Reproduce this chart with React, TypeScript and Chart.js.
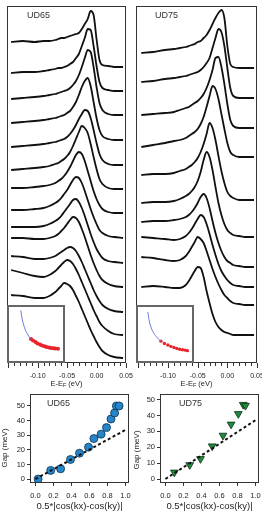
import React, { useEffect, useRef } from 'react';
import { Chart, registerables } from 'chart.js';

Chart.register(...registerables);

const FONT = "'Liberation Sans', Arial, Helvetica, sans-serif";
const INK = '#1e1e1e';

// ---------- EDC stacks: shared energy axis (eV) ----------
const energy = [-0.145, -0.125, -0.105, -0.09, -0.08, -0.07, -0.065, -0.06, -0.055, -0.05, -0.045, -0.04, -0.035, -0.03, -0.025, -0.02, -0.015, -0.01, -0.005, 0, 0.005, 0.01, 0.02, 0.03, 0.045];

// UD65: vertical offsets (arb. units) and intensities above each offset
const ud65Offsets = [296, 272, 248, 223, 198, 174, 150, 125, 100, 76, 51, 28, 5];
const ud65Edc01 = [25, 26, 25, 26, 26, 27, 28, 29, 29, 30, 31, 32, 33, 34, 38, 43, 48, 56, 52, 28, 7, 2, 1, 0, 0];
const ud65Edc02 = [18, 19, 19, 20, 21, 22, 23, 23, 24, 25, 27, 29, 33, 37, 45, 53, 62, 61, 45, 25, 9, 3, 1, 0, 0];
const ud65Edc03 = [16, 17, 18, 19, 20, 21, 22, 23, 24, 25, 27, 30, 34, 40, 48, 57, 65, 63, 48, 28, 12, 5, 1, 0, 0];
const ud65Edc04 = [17, 18, 19, 20, 21, 22, 23, 24, 25, 27, 29, 33, 38, 45, 53, 59, 62, 54, 38, 22, 10, 4, 1, 0, 0];
const ud65Edc05 = [18, 19, 20, 21, 22, 23, 24, 25, 26, 28, 31, 35, 40, 46, 51, 55, 54, 47, 35, 22, 11, 5, 1, 0, 0];
const ud65Edc06 = [19, 20, 21, 22, 23, 25, 26, 28, 30, 33, 37, 43, 50, 57, 63, 61, 56, 45, 32, 20, 10, 5, 1, 0, 0];
const ud65Edc07 = [25, 25, 26, 27, 28, 30, 32, 34, 37, 41, 46, 52, 58, 61, 59, 52, 42, 32, 22, 14, 8, 4, 1, 0, 0];
const ud65Edc08 = [28, 28, 29, 30, 32, 35, 37, 40, 44, 48, 53, 58, 61, 60, 55, 47, 38, 29, 21, 14, 8, 5, 2, 1, 0];
const ud65Edc09 = [36, 36, 36, 37, 39, 42, 44, 47, 51, 55, 59, 63, 64, 61, 55, 47, 38, 29, 21, 14, 9, 5, 2, 1, 0];
const ud65Edc10 = [49, 49, 48, 48, 49, 51, 53, 56, 59, 63, 67, 70, 69, 65, 58, 50, 41, 32, 24, 17, 11, 7, 3, 1, 0];
const ud65Edc11 = [56, 55, 53, 53, 54, 56, 58, 60, 62, 64, 65, 64, 61, 56, 50, 43, 36, 29, 22, 16, 11, 7, 3, 1, 0];
const ud65Edc12 = [65, 62, 59, 58, 60, 64, 67, 70, 73, 75, 74, 71, 66, 60, 53, 46, 39, 32, 25, 19, 13, 9, 4, 1, 0];
const ud65Edc13 = [63, 62, 60, 60, 62, 66, 69, 72, 75, 74, 72, 68, 62, 56, 49, 42, 35, 28, 22, 16, 11, 7, 3, 1, 0];
const ud65Curves = [ud65Edc01, ud65Edc02, ud65Edc03, ud65Edc04, ud65Edc05, ud65Edc06, ud65Edc07, ud65Edc08, ud65Edc09, ud65Edc10, ud65Edc11, ud65Edc12, ud65Edc13];

// UD75
const ud75Offsets = [295, 265, 235, 206, 163, 126, 96, 76, 58, 28];
const ud75Edc01 = [15, 16, 18, 19, 20, 21, 22, 23, 24, 26, 27, 30, 33, 38, 44, 50, 55, 58, 50, 22, 4, 1, 0, 0, 0];
const ud75Edc02 = [16, 17, 19, 20, 21, 22, 23, 24, 25, 26, 28, 31, 35, 40, 50, 60, 69, 66, 52, 30, 10, 2, 0, 0, 0];
const ud75Edc03 = [13, 14, 15, 16, 18, 20, 21, 23, 25, 27, 30, 34, 40, 48, 58, 70, 71, 61, 44, 24, 8, 2, 0, 0, 0];
const ud75Edc04 = [10, 12, 14, 16, 17, 19, 21, 23, 25, 28, 33, 40, 50, 61, 71, 68, 58, 43, 28, 14, 5, 2, 0, 0, 0];
const ud75Edc05 = [25, 26, 26, 27, 29, 31, 33, 35, 38, 42, 48, 56, 66, 77, 72, 60, 44, 29, 17, 8, 4, 2, 0, 0, 0];
const ud75Edc06 = [34, 35, 35, 36, 38, 41, 43, 46, 50, 56, 65, 77, 85, 80, 67, 50, 34, 22, 13, 7, 4, 2, 1, 0, 0];
const ud75Edc07 = [45, 46, 46, 47, 48, 50, 52, 55, 59, 64, 70, 73, 69, 59, 46, 34, 24, 16, 10, 6, 4, 2, 1, 0, 0];
const ud75Edc08 = [50, 49, 48, 47, 48, 51, 54, 58, 63, 68, 72, 70, 63, 53, 42, 32, 23, 16, 11, 7, 4, 2, 1, 0, 0];
const ud75Edc09 = [48, 47, 45, 44, 45, 49, 53, 58, 63, 68, 66, 62, 54, 45, 36, 28, 21, 15, 10, 7, 4, 2, 1, 0, 0];
const ud75Edc10 = [48, 49, 48, 47, 47, 50, 54, 59, 64, 68, 67, 58, 44, 32, 21, 13, 8, 5, 3, 2, 1, 0, 0, 0, 0];
const ud75Curves = [ud75Edc01, ud75Edc02, ud75Edc03, ud75Edc04, ud75Edc05, ud75Edc06, ud75Edc07, ud75Edc08, ud75Edc09, ud75Edc10];

const edcTickValues = [-0.1, -0.05, 0, 0.05];
const edcTickLabels = ['-0.10', '-0.05', '0.00', '0.05'];

// ---------- Fermi-surface insets (normalised inset coordinates) ----------
const ud65FsBlueU = [0.195, 0.224, 0.271, 0.328, 0.397];
const ud65FsBlueV = [0.971, 0.798, 0.626, 0.5, 0.397];
const ud65FsRedU = [0.4, 0.44, 0.49, 0.53, 0.58, 0.62, 0.67, 0.71, 0.76, 0.8, 0.85, 0.89, 0.94];
const ud65FsRedV = [0.4, 0.37, 0.34, 0.31, 0.29, 0.27, 0.255, 0.24, 0.23, 0.22, 0.215, 0.21, 0.205];

const ud75FsBlueU = [0.155, 0.19, 0.247, 0.328, 0.419];
const ud75FsBlueV = [0.943, 0.741, 0.569, 0.443, 0.357];
const ud75FsRedU = [0.419, 0.488, 0.557, 0.616, 0.678, 0.736, 0.793, 0.85, 0.902, 0.948];
const ud75FsRedV = [0.357, 0.31, 0.281, 0.253, 0.229, 0.212, 0.195, 0.184, 0.178, 0.167];

// ---------- Gap vs d-wave form factor ----------
const angTickValues = [0, 0.2, 0.4, 0.6, 0.8, 1];
const angTickLabels = ['0.0', '0.2', '0.4', '0.6', '0.8', '1.0'];
const gapTickValues = [0, 10, 20, 30, 40, 50];
const gapTickLabels = ['0', '10', '20', '30', '40', '50'];

const ud65Ang = [0.03, 0.17, 0.28, 0.39, 0.49, 0.59, 0.65, 0.73, 0.79, 0.84, 0.88, 0.9, 0.93];
const ud65Gap = [0, 5.9, 7, 13.4, 17.7, 21.8, 27.7, 30.7, 35.2, 41.1, 45.2, 50, 50];
const ud65FitX = [0, 1];
const ud65FitY = [0, 33.6];

const ud75Ang = [0.1, 0.27, 0.39, 0.52, 0.64, 0.73, 0.81, 0.865, 0.89];
const ud75Gap = [4.2, 8.9, 12.7, 20.7, 27.4, 34.4, 41, 46.8, 46.2];
const ud75FitX = [0, 1];
const ud75FitY = [0, 37];

// ---------- plugins ----------
const framePlugin = (color: string, width: number) => ({
  id: 'frame',
  afterDatasetsDraw(chart: any) {
    const { ctx, chartArea: a } = chart;
    ctx.save();
    ctx.strokeStyle = color;
    ctx.lineWidth = width;
    ctx.strokeRect(Math.round(a.left) + 0.5, Math.round(a.top) + 0.5, Math.round(a.right - a.left) - 1, Math.round(a.bottom - a.top) - 1);
    ctx.restore();
  },
});

const edcTicksPlugin = {
  id: 'edcTicks',
  afterDraw(chart: any) {
    const { ctx, chartArea: a, scales } = chart;
    const x = scales.x;
    ctx.save();
    ctx.strokeStyle = '#333';
    ctx.lineWidth = 1;
    for (let k = -15; k <= 5; k++) {
      const px = Math.round(x.getPixelForValue(k / 100)) + 0.5;
      const len = k % 5 === 0 ? 5 : 3;
      ctx.beginPath();
      ctx.moveTo(px, a.bottom);
      ctx.lineTo(px, a.bottom + len);
      ctx.stroke();
    }
    ctx.restore();
  },
};

const eefTitlePlugin = {
  id: 'eefTitle',
  afterDraw(chart: any) {
    const { ctx, chartArea: a } = chart;
    const size = 7.5;
    const cx = (a.left + a.right) / 2;
    const cy = a.bottom + 21;
    ctx.save();
    ctx.fillStyle = INK;
    ctx.textBaseline = 'middle';
    ctx.textAlign = 'left';
    const big = `${size}px ${FONT}`;
    const small = `${size * 0.72}px ${FONT}`;
    ctx.font = big;
    const w1 = ctx.measureText('E-E').width;
    const w3 = ctx.measureText(' (eV)').width;
    ctx.font = small;
    const w2 = ctx.measureText('F').width;
    const x0 = cx - (w1 + w2 + w3) / 2;
    ctx.font = big;
    ctx.fillText('E-E', x0, cy);
    ctx.font = small;
    ctx.fillText('F', x0 + w1, cy + 2);
    ctx.font = big;
    ctx.fillText(' (eV)', x0 + w1 + w2, cy);
    ctx.restore();
  },
};

const gapTitlePlugin = (x: number, y: number) => ({
  id: 'gapTitle',
  afterDraw(chart: any) {
    const { ctx } = chart;
    ctx.save();
    ctx.translate(x, y);
    ctx.rotate(-Math.PI / 2);
    ctx.fillStyle = INK;
    ctx.textAlign = 'center';
    ctx.textBaseline = 'middle';
    ctx.font = `8px ${FONT}`;
    ctx.fillText('Gap (meV)', 0, 0);
    ctx.restore();
  },
});

// ---------- configs ----------
function edcConfig(curves: number[][], offsets: number[], padL: number, padR: number, xMin: number) {
  return {
    type: 'line',
    data: {
      datasets: curves.map((c, k) => ({
        data: energy.map((e, i) => ({ x: e, y: c[i] + offsets[k] })),
        borderColor: '#111',
        borderWidth: 1.8,
        pointRadius: 0,
        fill: false,
        cubicInterpolationMode: 'monotone',
      })),
    },
    options: {
      animation: false,
      responsive: false,
      devicePixelRatio: 1,
      events: [],
      layout: { padding: { left: padL, right: padR, top: 6, bottom: 0 } },
      plugins: { legend: { display: false }, tooltip: { enabled: false } },
      scales: {
        x: {
          type: 'linear',
          min: xMin,
          max: 0.05,
          afterFit: (s: any) => { s.height = 32; },
          afterBuildTicks: (s: any) => { s.ticks = edcTickValues.map((v) => ({ value: v })); },
          grid: { display: false, drawTicks: false },
          border: { display: false },
          ticks: {
            autoSkip: false,
            maxRotation: 0,
            padding: 9,
            color: INK,
            font: { family: FONT, size: 7 },
            callback: (_v: any, i: number) => edcTickLabels[i],
          },
        },
        y: { display: false, min: 0, max: 357 },
      },
    },
    plugins: [framePlugin('#333', 1), edcTicksPlugin, eefTitlePlugin],
  };
}

function fsConfig(bu: number[], bv: number[], ru: number[], rv: number[], r: number) {
  return {
    type: 'scatter',
    data: {
      datasets: [
        {
          data: bu.map((u, i) => ({ x: u, y: bv[i] })),
          showLine: true,
          borderColor: '#6b7bd6',
          borderWidth: 1,
          pointRadius: 0,
          cubicInterpolationMode: 'monotone',
        },
        {
          data: ru.map((u, i) => ({ x: u, y: rv[i] })),
          pointRadius: r,
          backgroundColor: '#e8232b',
          borderWidth: 0,
        },
      ],
    },
    options: {
      animation: false,
      responsive: false,
      devicePixelRatio: 1,
      events: [],
      layout: { padding: 0 },
      plugins: { legend: { display: false }, tooltip: { enabled: false } },
      scales: { x: { display: false, min: 0, max: 1 }, y: { display: false, min: 0, max: 1 } },
    },
  };
}

function gapConfig(ang: number[], gap: number[], fitX: number[], fitY: number[], o: any) {
  return {
    type: 'scatter',
    data: {
      datasets: [
        {
          data: fitX.map((x, i) => ({ x, y: fitY[i] })),
          showLine: true,
          borderColor: '#111',
          borderWidth: 2,
          borderDash: [3, 2.5],
          pointRadius: 0,
          order: 1,
        },
        {
          data: ang.map((x, i) => ({ x, y: gap[i] })),
          pointStyle: o.style,
          rotation: o.rot,
          pointRadius: o.r,
          backgroundColor: o.fill,
          borderColor: o.edge,
          borderWidth: 0.8,
          order: 2,
        },
      ],
    },
    options: {
      animation: false,
      responsive: false,
      devicePixelRatio: 1,
      events: [],
      layout: { padding: { left: 0, top: 9, right: o.padR, bottom: 0 } },
      plugins: { legend: { display: false }, tooltip: { enabled: false } },
      scales: {
        x: {
          type: 'linear',
          min: -0.06,
          max: 1.04,
          afterFit: (s: any) => { s.height = 32; },
          afterBuildTicks: (s: any) => { s.ticks = angTickValues.map((v) => ({ value: v })); },
          grid: { drawOnChartArea: false, drawTicks: true, tickLength: 3, color: '#333' },
          border: { display: false },
          ticks: {
            autoSkip: false,
            maxRotation: 0,
            padding: 5,
            color: INK,
            font: { family: FONT, size: 7.5 },
            callback: (_v: any, i: number) => angTickLabels[i],
          },
          title: {
            display: true,
            text: '0.5*|cos(kx)-cos(ky)|',
            color: INK,
            font: { family: FONT, size: 9.5 },
            padding: { top: 0, bottom: 3.3 },
          },
        },
        y: {
          type: 'linear',
          min: o.yMin,
          max: o.yMax,
          afterFit: (s: any) => { s.width = o.yW; },
          afterBuildTicks: (s: any) => { s.ticks = gapTickValues.map((v) => ({ value: v })); },
          grid: { drawOnChartArea: false, drawTicks: true, tickLength: 3, color: '#333' },
          border: { display: false },
          ticks: {
            autoSkip: false,
            padding: 2,
            color: INK,
            font: { family: FONT, size: 7.5 },
            callback: (_v: any, i: number) => gapTickLabels[i],
          },
        },
      },
    },
    plugins: [framePlugin('#333', 1), gapTitlePlugin(o.titleX, o.titleY)],
  };
}

// ---------- components ----------
function ChartCanvas({ left, top, width, height, make, z = 1 }: any) {
  const ref = useRef<HTMLCanvasElement>(null);
  useEffect(() => {
    const chart = new Chart(ref.current as HTMLCanvasElement, make());
    return () => chart.destroy();
  }, []);
  return (
    <canvas
      ref={ref}
      width={width}
      height={height}
      style={{ position: 'absolute', left, top, width, height, zIndex: z }}
    />
  );
}

function Inset({ left, top, make }: any) {
  return (
    <>
      <div
        style={{
          position: 'absolute', left, top, width: 58, height: 58, boxSizing: 'border-box',
          border: '2px solid #666', background: '#fff', zIndex: 3,
        }}
      />
      <ChartCanvas left={left} top={top} width={58} height={58} make={make} z={4} />
    </>
  );
}

function Label({ text, left, top, size }: any) {
  return (
    <div
      style={{
        position: 'absolute', left, top, fontSize: size, lineHeight: `${size}px`,
        fontFamily: FONT, color: '#333', zIndex: 5, whiteSpace: 'nowrap',
      }}
    >
      {text}
    </div>
  );
}

export default function App() {
  useEffect(() => {
    document.body.style.margin = '0';
  }, []);
  return (
    <div style={{ position: 'fixed', left: 0, top: 0, width: 262, height: 515, overflow: 'hidden', background: '#fff' }}>
      <ChartCanvas left={0} top={0} width={150} height={395} make={() => edcConfig(ud65Curves, ud65Offsets, 7, 24, -0.152)} />
      <ChartCanvas left={120} top={0} width={170} height={395} make={() => edcConfig(ud75Curves, ud75Offsets, 16, 33, -0.154)} z={2} />
      <Inset left={7} top={305} make={() => fsConfig(ud65FsBlueU, ud65FsBlueV, ud65FsRedU, ud65FsRedV, 2)} />
      <Inset left={136} top={305} make={() => fsConfig(ud75FsBlueU, ud75FsBlueV, ud75FsRedU, ud75FsRedV, 1.7)} />
      <ChartCanvas
        left={0} top={385} width={140} height={130} z={2}
        make={() => gapConfig(ud65Ang, ud65Gap, ud65FitX, ud65FitY, {
          style: 'circle', rot: 0, r: 4, fill: '#2585c9', edge: '#0e3350', padR: 11,
          yMin: -2.7, yMax: 58.2, yW: 30, titleX: 5, titleY: 63,
        })}
      />
      <ChartCanvas
        left={131} top={385} width={144} height={130} z={2}
        make={() => gapConfig(ud75Ang, ud75Gap, ud75FitX, ud75FitY, {
          style: 'triangle', rot: 180, r: 4.5, fill: '#1f8a3e', edge: '#0c2e14', padR: 16,
          yMin: -2.5, yMax: 53.5, yW: 29, titleX: 6, titleY: 65,
        })}
      />
      <Label text="UD65" left={27} top={10.5} size={9} />
      <Label text="UD75" left={155} top={10.5} size={9} />
      <Label text="UD65" left={47} top={398.5} size={9} />
      <Label text="UD75" left={179} top={399} size={9} />
    </div>
  );
}
